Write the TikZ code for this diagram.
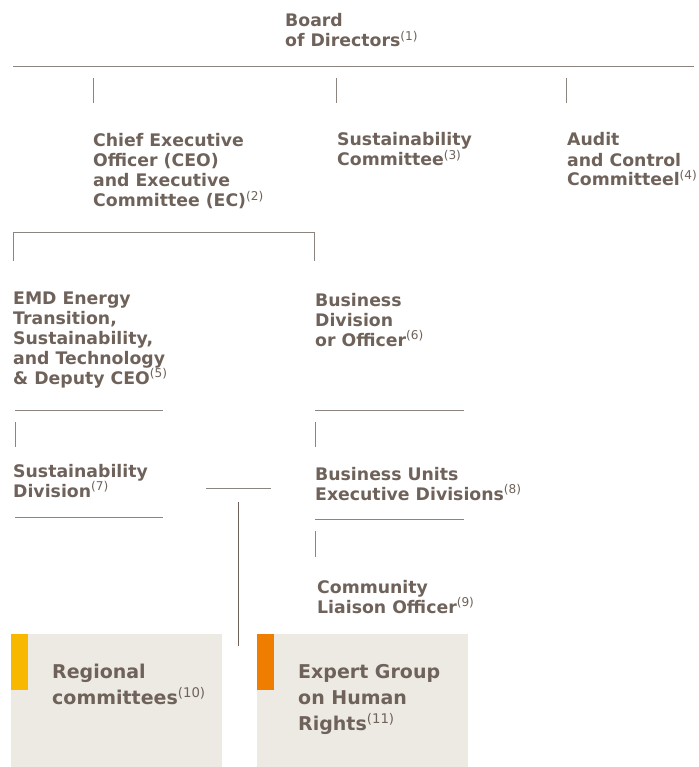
\documentclass[tikz,border=0pt]{standalone}
\usepackage{fontspec}
\setmainfont{DejaVu Sans}
\definecolor{textbrown}{HTML}{6E625A}
\definecolor{linegray}{HTML}{8C847E}
\definecolor{boxfill}{HTML}{EDEAE4}
\definecolor{baryellow}{HTML}{F9B800}
\definecolor{barorange}{HTML}{EE7D00}
\newcommand\fnref[1]{\textsuperscript{\mdseries(#1)}}
\tikzset{
    unit/.style={anchor=base west, inner sep=0pt, align=left, text=textbrown,
        font=\fontsize{17.3}{20}\selectfont\bfseries},
    boxunit/.style={unit, font=\fontsize{19}{26}\selectfont\bfseries},
    rule/.style={draw=linegray, line width=0.9pt}
}
\begin{document}
\begin{tikzpicture}[x=1pt, y=-1pt]
    \useasboundingbox (0, 0) rectangle (698, 767);

    % shaded boxes
    \fill[boxfill] (11, 634) rectangle (222, 767);
    \fill[boxfill] (257, 634) rectangle (468, 767);
    \fill[baryellow] (11, 634) rectangle (28, 690);
    \fill[barorange] (257, 634) rectangle (274, 690);

    % units (placed at the baseline of their last line)
    \node[unit] (board) at (285, 47) {Board\\of Directors\fnref{1}};
    \node[unit] (ceo) at (93, 207)
        {Chief Executive\\Officer (CEO)\\and Executive\\Committee (EC)\fnref{2}};
    \node[unit] (suscom) at (337, 166) {Sustainability\\Committee\fnref{3}};
    \node[unit] (audit) at (567, 186) {Audit\\and Control\\Committeel\fnref{4}};
    \node[unit] (emd) at (13, 384)
        {EMD Energy\\Transition,\\Sustainability,\\and Technology\\\& Deputy CEO\fnref{5}};
    \node[unit] (busdiv) at (315, 346) {Business\\Division\\or Officer\fnref{6}};
    \node[unit] (susdiv) at (13, 497) {Sustainability\\Division\fnref{7}};
    \node[unit] (busunits) at (315, 500) {Business Units\\Executive Divisions\fnref{8}};
    \node[unit] (liaison) at (317, 613) {Community\\Liaison Officer\fnref{9}};
    \node[boxunit] (regional) at (52, 704) {Regional\\committees\fnref{10}};
    \node[boxunit] (expert) at (298, 730) {Expert Group\\on Human\\Rights\fnref{11}};

    % line ends
    \foreach \n/\x/\y in {
        boardL/13/66, boardR/694/66,
        ceoT/93/78, ceoB/93/103,
        suscomT/336/78, suscomB/336/103,
        auditT/566/78, auditB/566/103,
        emdB/13/261, emdT/13/232, busdivT/314/232, busdivB/314/261,
        emdL/15/410, emdR/163/410, susdivT/15/422, susdivB/15/447,
        susdivL/15/517, susdivR/163/517,
        busdivL/315/410, busdivR/464/410, busunitsT/315/422, busunitsB/315/447,
        busunitsL/315/519, busunitsR/464/519, liaisonT/315/531, liaisonB/315/557,
        linkL/206/488, linkR/271/488, linkT/238/502, linkB/238/646%
    } {
        \coordinate (\n) at (\x, \y);
    }

    \draw[rule]
        (boardL) -- (boardR)
        (ceoT) -- (ceoB)
        (suscomT) -- (suscomB)
        (auditT) -- (auditB)
        (emdB) -- (emdT) -- (busdivT) -- (busdivB)
        (emdL) -- (emdR)
        (susdivT) -- (susdivB)
        (susdivL) -- (susdivR)
        (busdivL) -- (busdivR)
        (busunitsT) -- (busunitsB)
        (busunitsL) -- (busunitsR)
        (liaisonT) -- (liaisonB)
        (linkL) -- (linkR);
    \draw[rule, draw=textbrown] (linkT) -- (linkB);
\end{tikzpicture}
\end{document}
